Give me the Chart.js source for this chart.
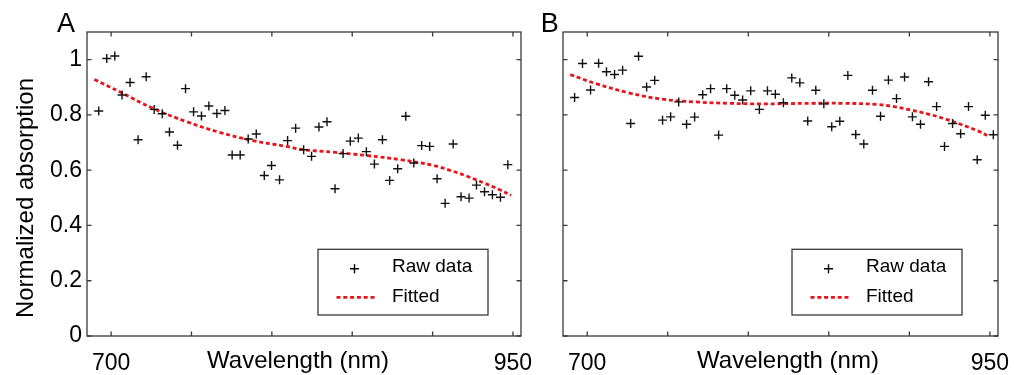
<!DOCTYPE html>
<html>
<head>
<meta charset="utf-8">
<script src="https://cdn.jsdelivr.net/npm/chart.js@4.4.1/dist/chart.umd.min.js"></script>
<style>
  body { margin: 0; background: #fff; }
  #wrap { position: relative; width: 1014px; height: 375px; }
  canvas { position: absolute; top: 0; }
  #chartA { left: 0; }
  #chartB { left: 530px; }
</style>
</head>
<body>
<div id="wrap">
  <canvas id="chartA" width="545" height="375"></canvas>
  <canvas id="chartB" width="484" height="375"></canvas>
</div>
<script>
// valores
const xTicks = [700, 750, 800, 850, 900, 950];
const xLabels = [700, 950];
const yTicks = [0, 0.2, 0.4, 0.6, 0.8, 1];

// painel A - dados brutos
const wlA = [692.3, 697.3, 702.3, 706.8, 711.8, 716.8, 721.8, 726.8, 731.8, 736.3,
  741.3, 746.3, 751.3, 756.2, 760.8, 765.8, 770.8, 775.3, 780.3, 785.3,
  790.3, 795.3, 799.8, 804.8, 809.8, 814.8, 819.8, 824.7, 829.3, 834.3,
  839.3, 844.3, 848.8, 853.8, 858.8, 863.8, 868.8, 873.3, 878.3, 883.3,
  888.3, 893.2, 898.2, 902.8, 907.8, 912.8, 917.7, 922.7, 927.3, 932.3,
  937.2, 942.2, 946.8];
const absA = [0.814, 1.004, 1.013, 0.872, 0.917, 0.710, 0.938, 0.820, 0.804, 0.738,
  0.690, 0.895, 0.811, 0.796, 0.832, 0.805, 0.816, 0.655, 0.655, 0.713,
  0.731, 0.581, 0.617, 0.565, 0.707, 0.752, 0.674, 0.650, 0.756, 0.775,
  0.533, 0.660, 0.705, 0.716, 0.667, 0.622, 0.710, 0.563, 0.605, 0.795,
  0.626, 0.689, 0.686, 0.569, 0.480, 0.695, 0.504, 0.499, 0.546, 0.522,
  0.511, 0.502, 0.620];
// painel A - curva ajustada
const fitWlA = [689.6, 705.2, 725.9, 746.7, 767.4, 788.2, 809.0, 819.8, 838.4, 859.2,
  880.0, 900.7, 911.1, 921.5, 931.8, 942.2, 948.9];
const fitA = [0.928, 0.884, 0.824, 0.776, 0.737, 0.707, 0.686, 0.674, 0.665, 0.653,
  0.638, 0.617, 0.599, 0.578, 0.554, 0.528, 0.509];

// painel B - dados brutos
const wlB = [692.2, 697.1, 702.1, 707.1, 712.0, 717.0, 722.0, 727.0, 731.9, 736.9,
  741.9, 746.8, 751.8, 756.8, 761.7, 766.7, 771.7, 776.6, 781.6, 786.6,
  791.6, 796.5, 801.5, 806.9, 811.9, 816.8, 821.8, 827.0, 832.0, 836.9,
  841.9, 846.9, 851.8, 856.8, 861.8, 866.7, 871.7, 877.1, 882.1, 887.0,
  892.0, 897.0, 901.9, 906.9, 911.9, 916.9, 921.8, 926.8, 931.8, 936.7,
  942.1, 947.1, 952.1];
const absB = [0.863, 0.986, 0.890, 0.987, 0.956, 0.946, 0.962, 0.769, 1.012, 0.901,
  0.925, 0.781, 0.793, 0.847, 0.766, 0.792, 0.873, 0.895, 0.727, 0.895,
  0.871, 0.854, 0.887, 0.820, 0.887, 0.875, 0.844, 0.934, 0.916, 0.778,
  0.889, 0.840, 0.757, 0.777, 0.943, 0.729, 0.695, 0.889, 0.795, 0.926,
  0.859, 0.937, 0.793, 0.766, 0.920, 0.830, 0.686, 0.769, 0.732, 0.830,
  0.638, 0.799, 0.728];
// painel B - curva ajustada
const fitWlB = [689.5, 705.0, 725.7, 746.4, 767.1, 787.8, 808.5, 838.6, 859.3, 880.0,
  890.3, 900.7, 911.1, 921.4, 931.8, 942.1, 949.6];
const fitB = [0.946, 0.914, 0.880, 0.857, 0.847, 0.842, 0.840, 0.842, 0.842, 0.838,
  0.830, 0.818, 0.804, 0.787, 0.766, 0.743, 0.722];

const FONT = "'Liberation Sans', Arial, sans-serif";
const AXIS_COLOR = '#3a3a3a';
const RED = '#e8141b';

// moldura, ticks internos, legenda e textos
const extrasPlugin = {
  id: 'extras',
  afterDraw(chart, args, opts) {
    const ctx = chart.ctx;
    const a = chart.chartArea;
    const xs = chart.scales.x;
    const ys = chart.scales.y;
    ctx.save();

    // caixa dos eixos
    ctx.strokeStyle = AXIS_COLOR;
    ctx.lineWidth = 1.3;
    ctx.strokeRect(a.left, a.top, a.right - a.left, a.bottom - a.top);

    // ticks para dentro
    const tl = 4.5;
    ctx.beginPath();
    xTicks.forEach(v => {
      const px = xs.getPixelForValue(v);
      ctx.moveTo(px, a.bottom); ctx.lineTo(px, a.bottom - tl);
      ctx.moveTo(px, a.top); ctx.lineTo(px, a.top + tl);
    });
    yTicks.forEach(v => {
      const py = ys.getPixelForValue(v);
      ctx.moveTo(a.left, py); ctx.lineTo(a.left + tl, py);
      ctx.moveTo(a.right, py); ctx.lineTo(a.right - tl, py);
    });
    ctx.stroke();

    // letra do painel
    ctx.fillStyle = '#000';
    ctx.font = '27px ' + FONT;
    ctx.textAlign = 'left';
    ctx.textBaseline = 'alphabetic';
    ctx.fillText(opts.letter, opts.letterX, 32);

    // titulo do eixo x
    ctx.font = '24px ' + FONT;
    ctx.textAlign = 'center';
    ctx.fillText('Wavelength (nm)', opts.xTitleX, 368);

    // titulo do eixo y
    if (opts.yTitle) {
      ctx.save();
      ctx.translate(33, 198);
      ctx.rotate(-Math.PI / 2);
      ctx.fillText(opts.yTitle, 0, 0);
      ctx.restore();
    }

    // legenda
    const L = opts.legendX, T = 249.3;
    ctx.lineWidth = 1.3;
    ctx.strokeStyle = AXIS_COLOR;
    ctx.strokeRect(L, T, 170, 65.7);

    ctx.strokeStyle = '#000';
    ctx.lineWidth = 1.4;
    ctx.beginPath();
    ctx.moveTo(L + 36.5 - 4.5, 268.7); ctx.lineTo(L + 36.5 + 4.5, 268.7);
    ctx.moveTo(L + 36.5, 268.7 - 4.5); ctx.lineTo(L + 36.5, 268.7 + 4.5);
    ctx.stroke();

    ctx.strokeStyle = RED;
    ctx.lineWidth = 2.8;
    ctx.setLineDash([4, 2.8]);
    ctx.beginPath();
    ctx.moveTo(L + 18.5, 297.3); ctx.lineTo(L + 59, 297.3);
    ctx.stroke();
    ctx.setLineDash([]);

    ctx.fillStyle = '#000';
    ctx.font = '19px ' + FONT;
    ctx.textAlign = 'left';
    ctx.fillText('Raw data', L + 74, 271.7);
    ctx.fillText('Fitted', L + 74, 302.3);

    ctx.restore();
  }
};

function montarPainel(id, wl, abs, fitWl, fitVals, cfg) {
  const ctx = document.getElementById(id).getContext('2d');
  return new Chart(ctx, {
    type: 'scatter',
    data: {
      datasets: [
        {
          label: 'Raw data',
          data: wl.map((x, i) => ({ x: x, y: abs[i] })),
          pointStyle: 'cross',
          pointRadius: 4.5,
          pointHoverRadius: 4.5,
          borderColor: '#111',
          backgroundColor: '#111',
          borderWidth: 1.4,
          showLine: false
        },
        {
          label: 'Fitted',
          data: fitWl.map((x, i) => ({ x: x, y: fitVals[i] })),
          showLine: true,
          pointRadius: 0,
          borderColor: RED,
          borderWidth: 2.8,
          borderDash: [4, 2.8],
          tension: 0.4,
          fill: false
        }
      ]
    },
    options: {
      responsive: false,
      animation: false,
      devicePixelRatio: 1,
      layout: { padding: { top: 32, right: cfg.padRight, left: 0, bottom: 0 } },
      plugins: {
        legend: { display: false },
        tooltip: { enabled: false },
        extras: cfg.extras
      },
      scales: {
        x: {
          type: 'linear',
          min: 685,
          max: 955,
          grid: { display: false, drawTicks: false },
          border: { display: false },
          afterBuildTicks: s => { s.ticks = xLabels.map(v => ({ value: v })); },
          afterFit: s => {
            s.height = 39;
            s.paddingLeft = 0;
            s.paddingRight = 0;
          },
          ticks: {
            color: '#000',
            font: { family: FONT, size: 23 },
            padding: 14,
            maxRotation: 0,
            autoSkip: false
          }
        },
        y: {
          type: 'linear',
          min: 0,
          max: 1.1,
          grid: { display: false, drawTicks: false },
          border: { display: false },
          afterBuildTicks: s => { s.ticks = yTicks.map(v => ({ value: v })); },
          afterFit: s => {
            s.width = cfg.yWidth;
            s.paddingTop = 0;
            s.paddingBottom = 0;
          },
          ticks: {
            display: cfg.showYLabels,
            color: '#000',
            font: { family: FONT, size: 23 },
            padding: 5,
            callback: v => String(v)
          }
        }
      }
    },
    plugins: [extrasPlugin]
  });
}

montarPainel('chartA', wlA, absA, fitWlA, fitA, {
  padRight: 24,
  yWidth: 87,
  showYLabels: true,
  extras: { letter: 'A', letterX: 57, xTitleX: 298, yTitle: 'Normalized absorption', legendX: 318 }
});

montarPainel('chartB', wlB, absB, fitWlB, fitB, {
  padRight: 16,
  yWidth: 33,
  showYLabels: false,
  extras: { letter: 'B', letterX: 10.7, xTitleX: 258, yTitle: null, legendX: 262 }
});
</script>
</body>
</html>
